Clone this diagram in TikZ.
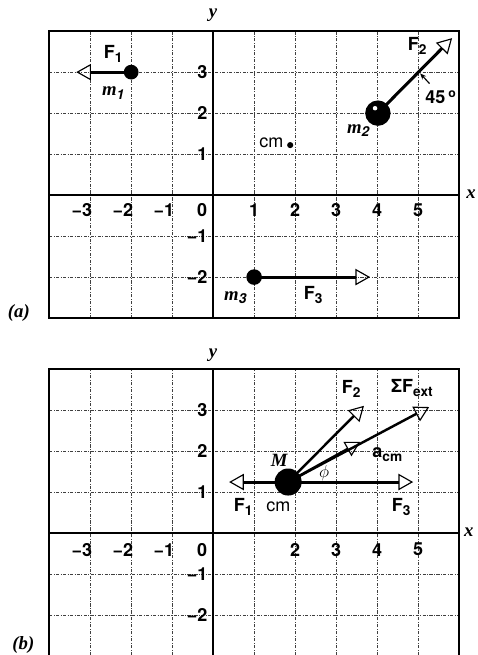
\documentclass[tikz,border=0pt]{standalone}
\usepackage{fontspec}
\setsansfont{TeX Gyre Heros}
\newfontfamily\bislab{Liberation Serif}
\usetikzlibrary{arrows.meta}
\newcommand\lsub[1]{\raisebox{-0.4ex}{\fontsize{9.5}{10}\selectfont #1}}
\tikzset{
  gridline/.style={black!75, line width=0.45pt, dash pattern=on 2.2pt off 1pt on 0.6pt off 1pt},
  frameline/.style={black, line width=1.1pt},
  axisline/.style={black, line width=1.3pt},
  lab/.style={font=\fontsize{12.5}{14}\selectfont\sffamily\bfseries, inner sep=1pt},
  mlab/.style={font=\fontsize{13}{14}\selectfont\bislab\bfseries\itshape, inner sep=1pt},
  ball/.style={circle, fill=black, inner sep=0pt, minimum size=#1},
  force/.style={line width=2.1pt, -{Triangle[open, length=0.36cm, width=0.4cm, line width=0.8pt]}},
  thinforce/.style={line width=1.7pt, -{Triangle[open, length=0.36cm, width=0.4cm, line width=0.8pt]}},
}
\begin{document}
\begin{tikzpicture}[x=1cm,y=1cm]
\useasboundingbox (-5.2,4.76) rectangle (6.46,-11.22);
%%%%%%%%%%%%%%%% panel (a)
\begin{scope}
  \foreach \x in {-3,-2,-1,1,2,3,4,5} \draw[gridline] (\x,-3) -- (\x,4);
  \foreach \y in {-2,-1,1,2,3} \draw[gridline] (-4,\y) -- (6,\y);
  \draw[frameline] (-4,-3) rectangle (6,4);
  \draw[axisline] (-4,0) -- (6,0);
  \draw[axisline] (0,-3) -- (0,4);
  \node[mlab] (ya) at (0,4.39) {y};
  \node[mlab] (xa) at (6.29,0.02) {x};
  \foreach \y/\t in {3/3,2/2,1/1,-1/{\textminus1},-2/{\textminus2}}
    \node[lab, anchor=east] at (-0.1,\y) {\t};
  \foreach \x in {-3,-2,-1} \node[lab] at (\x-0.2,-0.37) {\textminus\the\numexpr-\x\relax};
  \node[lab] at (-0.27,-0.37) {0};
  \foreach \x in {1,2,3,4,5} \node[lab] at (\x,-0.37) {\x};
  % m1
  \node[ball=0.36cm] (m1) at (-2,3) {};
  \coordinate (f1tip) at (-3.34,3);
  \draw[force] (m1.center) -- (f1tip);
  \node[lab] (F1a) at (-2.44,3.45) {F\lsub{1}};
  \node[mlab] (m1l) at (-2.44,2.49) {m\lsub{\sffamily 1}};
  % m2
  \node[ball=0.62cm] (m2) at (4.02,2) {};
  \fill[white] (3.95,2.12) circle (0.055);
  \coordinate (f2tip) at (5.83,3.83);
  \draw[force] (m2.center) -- (f2tip);
  \node[lab] (F2a) at (4.98,3.63) {F\lsub{2}};
  \node[mlab] (m2l) at (3.54,1.58) {m\lsub{\sffamily 2}};
  \node[lab] (ang) at (5.55,2.39) {45\,\raisebox{0.6ex}{\fontsize{8.5}{9}\selectfont o}};
  \coordinate (angtip) at (5.05,2.97);
  \draw[line width=0.8pt, -{Stealth[length=0.15cm, width=0.12cm]}] (5.28,2.72) -- (angtip);
  % cm
  \fill[black] (1.88,1.22) circle (0.075);
  \node[lab, font=\fontsize{12.5}{14}\selectfont\sffamily] (cma) at (1.42,1.27) {cm};
  % m3
  \node[ball=0.38cm] (m3) at (1,-2) {};
  \coordinate (f3tip) at (3.83,-2);
  \draw[force] (m3.center) -- (f3tip);
  \node[mlab] (m3l) at (0.54,-2.5) {m\lsub{\sffamily 3}};
  \node[lab] (F3a) at (2.44,-2.44) {F\lsub{3}};
  \node[mlab] (pa) at (-4.74,-2.88) {(a)};
\end{scope}
%%%%%%%%%%%%%%%% panel (b)
\begin{scope}[yshift=-8.24cm]
  \foreach \x in {-3,-2,-1,1,2,3,4,5} \draw[gridline] (\x,-2.98) -- (\x,4);
  \foreach \y in {-2,-1,1,2,3} \draw[gridline] (-4,\y) -- (6,\y);
  \draw[frameline] (-4,-2.98) -- (-4,4) -- (6,4) -- (6,-2.98);
  \draw[axisline] (-4,0) -- (6,0);
  \draw[axisline] (0,-2.98) -- (0,4);
  \node[mlab] (yb) at (0,4.34) {y};
  \node[mlab] (xb) at (6.24,0.02) {x};
  \foreach \y/\t in {3/3,2/2,1/1,-1/{\textminus1},-2/{\textminus2}}
    \node[lab, anchor=east] at (-0.1,\y) {\t};
  \foreach \x in {-3,-2,-1} \node[lab] at (\x-0.2,-0.41) {\textminus\the\numexpr-\x\relax};
  \node[lab] at (-0.27,-0.41) {0};
  \foreach \x in {2,3,4,5} \node[lab] at (\x,-0.41) {\x};
  % M
  \node[ball=0.66cm] (M) at (1.83,1.24) {};
  \coordinate (g1tip) at (0.39,1.24);
  \coordinate (g3tip) at (4.88,1.24);
  \coordinate (g2tip) at (3.68,3.1);
  \coordinate (sftip) at (5.27,3.07);
  \coordinate (acmtip) at (3.59,2.22);
  \draw[force] (M.center) -- (g1tip);
  \draw[force] (M.center) -- (g3tip);
  \draw[thinforce] (M.center) -- (g2tip);
  \draw[thinforce] (M.center) -- (sftip);
  \draw[thinforce] (M.center) -- (acmtip);
  \node[lab] (F2b) at (3.37,3.51) {F\lsub{2}};
  \node[lab] (SF) at (4.85,3.54) {ΣF\lsub{ext}};
  \node[lab] (acm) at (4.25,1.9) {a\lsub{cm}};
  \node[mlab] (Ml) at (1.61,1.78) {M};
  \node[mlab] (phi) at (2.71,1.46) {$\phi$};
  \node[lab] (F1b) at (0.73,0.63) {F\lsub{1}};
  \node[lab, font=\fontsize{12.5}{14}\selectfont\sffamily] (cmb) at (1.59,0.63) {cm};
  \node[lab] (F3b) at (4.59,0.63) {F\lsub{3}};
  \node[mlab] (pb) at (-4.63,-2.73) {(b)};
\end{scope}
\end{tikzpicture}
\end{document}
